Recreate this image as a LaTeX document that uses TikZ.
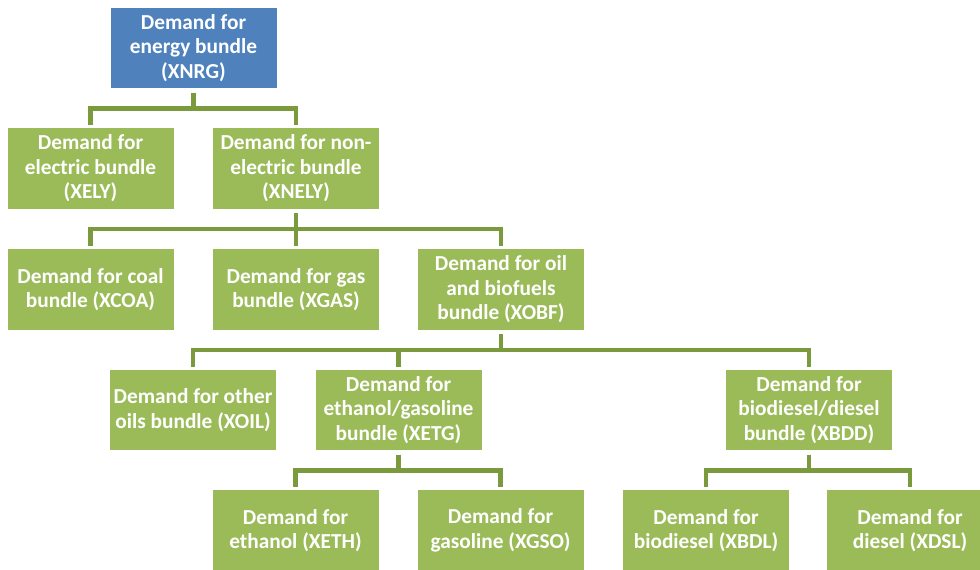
\documentclass[tikz,border=0pt]{standalone}
\usepackage{fontspec}
\setmainfont{Carlito}
\usepackage{xcolor}
\usepackage{tikz}
\usetikzlibrary{calc}

\definecolor{boxblue}{HTML}{4F81BD}
\definecolor{boxgreen}{HTML}{9BBB59}
\definecolor{linegreen}{HTML}{7B9A3E}

\begin{document}
\begin{tikzpicture}[x=0.75pt,y=0.75pt,
  box/.style={fill=boxgreen,minimum width=124.5pt,minimum height=60.5pt,
    inner sep=0pt,align=center,text=white,
    font=\fontsize{16}{18.4}\selectfont\bfseries},
  topbox/.style={box,fill=boxblue},
  conn/.style={draw=linegreen,line width=3.4pt,shorten <=3pt,shorten >=2pt}]
\useasboundingbox (0,0) rectangle (980,-569);
% Level 1
\node[topbox] (xnrg) at (193.5,-48) {Demand for\\energy bundle\\(XNRG)};
% Level 2
\node[box] (xely) at (90.5,-168.5) {Demand for\\electric bundle\\(XELY)};
\node[box] (xnely) at (296,-168.5) {Demand for non-\\electric bundle\\(XNELY)};
% Level 3
\node[box] (xcoa) at (90.5,-289.5) {Demand for coal\\bundle (XCOA)};
\node[box] (xgas) at (296,-289.5) {Demand for gas\\bundle (XGAS)};
\node[box] (xobf) at (501,-289.5) {Demand for oil\\and biofuels\\bundle (XOBF)};
% Level 4
\node[box] (xoil) at (193,-410) {Demand for other\\oils bundle (XOIL)};
\node[box] (xetg) at (398.5,-410) {Demand for\\ethanol/gasoline\\bundle (XETG)};
\node[box] (xbdd) at (809,-410) {Demand for\\biodiesel/diesel\\bundle (XBDD)};
% Level 5
\node[box] (xeth) at (295.5,-530.5) {Demand for\\ethanol (XETH)};
\node[box] (xgso) at (500.5,-530.5) {Demand for\\gasoline (XGSO)};
\node[box] (xbdl) at (706,-530.5) {Demand for\\biodiesel (XBDL)};
\node[box] (xdsl) at (910,-530.5) {Demand for\\diesel (XDSL)};
% Connectors
\foreach \p/\c in {xnrg/xely,xnrg/xnely,xnely/xcoa,xnely/xgas,xnely/xobf,
    xobf/xoil,xobf/xetg,xobf/xbdd,xetg/xeth,xetg/xgso,xbdd/xbdl,xbdd/xdsl}
  \draw[conn] (\p.south) -- ++(0,-20) -| (\c.north);
\end{tikzpicture}
\end{document}
